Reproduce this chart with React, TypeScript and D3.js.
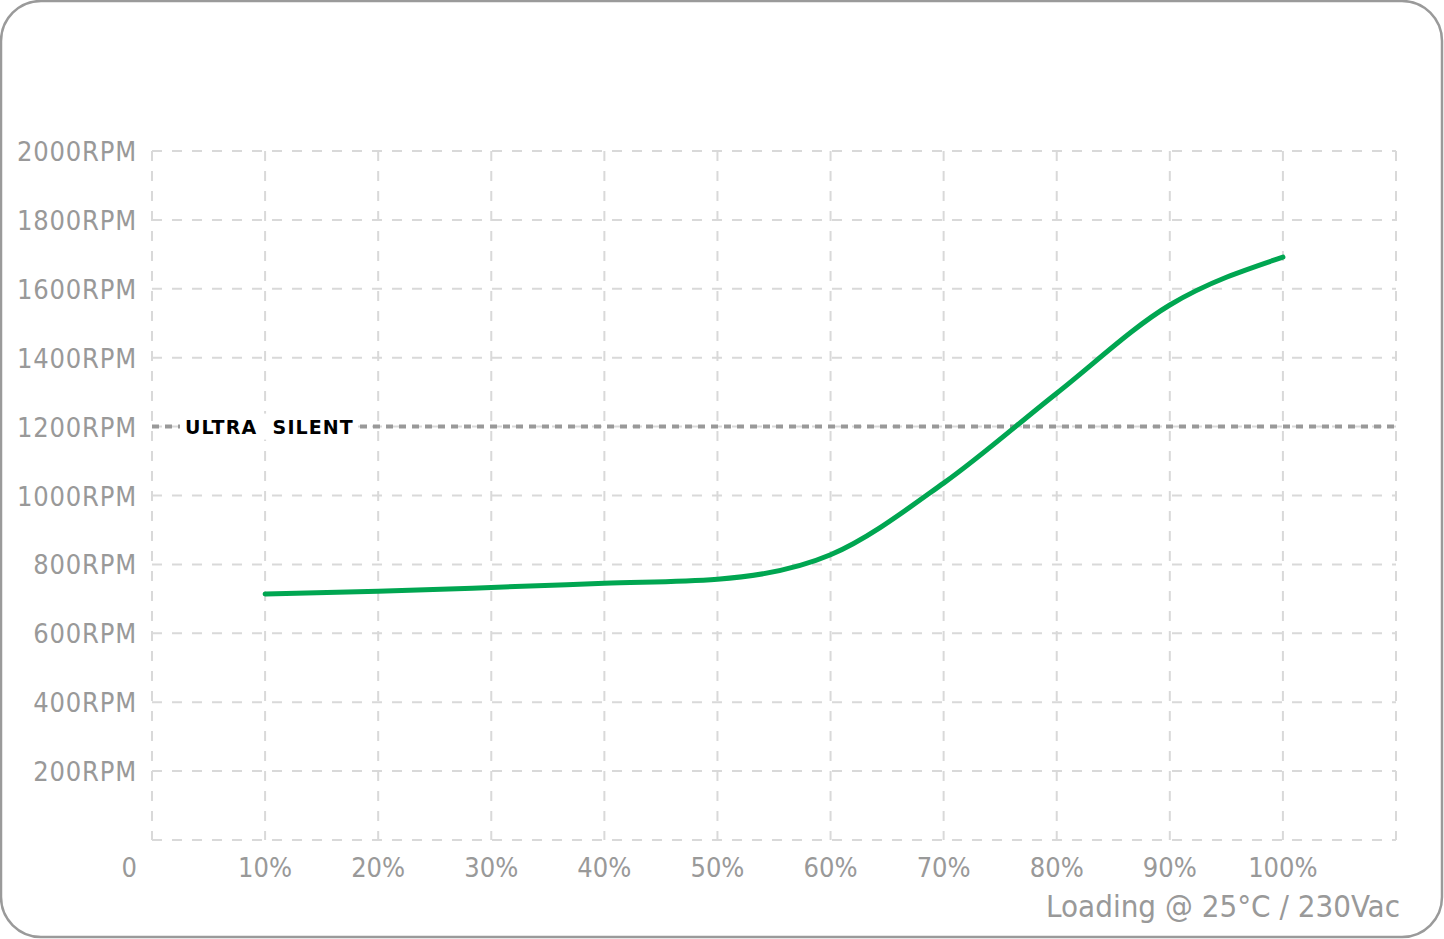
import React from "react";
import * as d3 from "d3";

const loads = [10, 20, 30, 40, 50, 60, 70, 80, 90, 100];
const rpm = [714, 722, 733, 745, 757, 828, 1036, 1297, 1553, 1692];
const yTicks = [200, 400, 600, 800, 1000, 1200, 1400, 1600, 1800, 2000];
const xTicks = [10, 20, 30, 40, 50, 60, 70, 80, 90, 100];
const silentLevel = 1200;
const silentLabel = "ULTRA  SILENT";
const axisTitle = "Loading @ 25°C / 230Vac";

export default function App() {
  const W = 1444, H = 939;
  const x = d3.scaleLinear().domain([0, 110]).range([152, 1396]);
  const y = d3.scaleLinear().domain([0, 2000]).range([840, 151]);
  const line = d3
    .line<number>()
    .x((_, i) => x(loads[i]))
    .y((d) => y(d))
    .curve(d3.curveMonotoneX);
  const grid = "#d9d9d9";
  const txt = "#999999";
  const font = "'DejaVu Sans Condensed', 'Roboto', sans-serif";
  const gridX = [0, ...xTicks, 110];
  const gridY = [0, ...yTicks];
  return (
    <svg width={W} height={H} style={{ position: "absolute", left: 0, top: 0 }}>
      <rect x={1} y={1} width={W - 3} height={H - 3} rx={40} ry={40} fill="#fff" stroke="#9a9a9a" strokeWidth={2.5} />
      {gridX.map((t) => (
        <line key={"gx" + t} x1={x(t)} x2={x(t)} y1={y(2000)} y2={y(0)} stroke={grid} strokeWidth={2} strokeDasharray="10 10" />
      ))}
      {gridY.map((t) => (
        <line key={"gy" + t} x1={x(0)} x2={x(110)} y1={y(t)} y2={y(t)} stroke={grid} strokeWidth={2} strokeDasharray="10 10" />
      ))}
      {yTicks.map((t) => (
        <text key={"yl" + t} x={137} y={y(t) + 10} textAnchor="end" fill={txt} fontFamily={font} fontSize={27} letterSpacing={0.8}>
          {t}RPM
        </text>
      ))}
      <text x={137} y={877} textAnchor="end" fill={txt} fontFamily={font} fontSize={27}>0</text>
      {xTicks.map((t) => (
        <text key={"xl" + t} x={x(t)} y={877} textAnchor="middle" fill={txt} fontFamily={font} fontSize={27}>
          {t}%
        </text>
      ))}
      <text x={1400} y={917} textAnchor="end" fill={txt} fontFamily={font} fontSize={31}>{axisTitle}</text>
      <line x1={x(0)} x2={x(110)} y1={y(silentLevel)} y2={y(silentLevel)} stroke="#999" strokeWidth={4} strokeDasharray="7 6" />
      <rect x={180} y={y(silentLevel) - 13} width={178} height={26} fill="#fff" />
      <text x={185} y={y(silentLevel) + 7} fill="#000" fontFamily="'DejaVu Sans', sans-serif" fontWeight="bold" fontSize={19} letterSpacing={1.1} style={{ whiteSpace: "pre" }}>
        {silentLabel}
      </text>
      <path d={line(rpm) || ""} fill="none" stroke="#00a651" strokeWidth={5} strokeLinecap="round" />
    </svg>
  );
}
